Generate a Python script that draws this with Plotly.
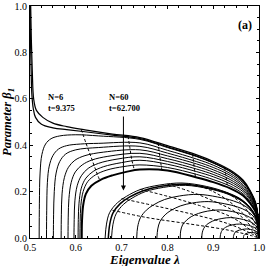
import plotly.graph_objects as go

# ---------------- data ----------------
# outer curves (reach the top of the frame)
outerA_x = [0.5015, 0.503, 0.505, 0.508, 0.514, 0.528, 0.55, 0.58, 0.62, 0.68, 0.74, 0.8, 0.864, 0.9, 0.937, 0.965, 0.98, 0.993, 0.999, 1.0]
outerA_y = [1.0, 0.85, 0.72, 0.6, 0.55, 0.52, 0.495, 0.48, 0.466, 0.448, 0.433, 0.398, 0.358, 0.33, 0.293, 0.25, 0.207, 0.15, 0.07, 0.0]
outerB_x = [0.5005, 0.501, 0.5025, 0.504, 0.507, 0.512, 0.525, 0.55, 0.58, 0.62, 0.68, 0.74, 0.8, 0.864, 0.9, 0.937, 0.965, 0.98, 0.993, 0.999, 1.0]
outerB_y = [1.0, 0.85, 0.72, 0.62, 0.56, 0.52, 0.49, 0.475, 0.467, 0.458, 0.443, 0.428, 0.393, 0.353, 0.325, 0.288, 0.245, 0.202, 0.145, 0.068, 0.0]

tail_x = [0.8, 0.864, 0.9, 0.937, 0.965, 0.98, 0.993, 0.999, 1.0]

upper_x = [
    [0.520, 0.5205, 0.522, 0.526, 0.534, 0.546, 0.565, 0.6, 0.65, 0.74] + tail_x,
    [0.536, 0.5365, 0.538, 0.542, 0.55, 0.562, 0.58, 0.61, 0.65, 0.74] + tail_x,
    [0.551, 0.5515, 0.553, 0.557, 0.565, 0.578, 0.6, 0.65, 0.74] + tail_x,
    [0.568, 0.5685, 0.570, 0.575, 0.584, 0.598, 0.62, 0.66, 0.74] + tail_x,
    [0.583, 0.5835, 0.585, 0.59, 0.599, 0.614, 0.635, 0.67, 0.74] + tail_x,
    [0.596, 0.5965, 0.598, 0.603, 0.612, 0.627, 0.65, 0.69, 0.74] + tail_x,
    [0.605, 0.6055, 0.607, 0.612, 0.622, 0.638, 0.66, 0.7, 0.74] + tail_x,
    [0.609, 0.6095, 0.611, 0.616, 0.626, 0.643, 0.668, 0.705, 0.74] + tail_x,
    [0.613, 0.6135, 0.616, 0.622, 0.634, 0.655, 0.68, 0.71, 0.74] + tail_x,
]
upper_y = [
    [0, 0.15, 0.28, 0.36, 0.405, 0.428, 0.44, 0.445, 0.44, 0.425, 0.390, 0.351, 0.323, 0.287, 0.245, 0.203, 0.147, 0.069, 0],
    [0, 0.12, 0.24, 0.31, 0.355, 0.383, 0.398, 0.405, 0.408, 0.41, 0.378, 0.340, 0.314, 0.278, 0.238, 0.197, 0.143, 0.067, 0],
    [0, 0.1, 0.2, 0.28, 0.33, 0.362, 0.38, 0.39, 0.395, 0.366, 0.329, 0.304, 0.270, 0.230, 0.190, 0.138, 0.064, 0],
    [0, 0.1, 0.19, 0.26, 0.305, 0.335, 0.355, 0.37, 0.38, 0.354, 0.319, 0.294, 0.261, 0.223, 0.184, 0.134, 0.062, 0],
    [0, 0.09, 0.17, 0.24, 0.285, 0.315, 0.336, 0.352, 0.365, 0.342, 0.308, 0.284, 0.252, 0.215, 0.178, 0.129, 0.060, 0],
    [0, 0.08, 0.16, 0.225, 0.268, 0.3, 0.322, 0.34, 0.35, 0.330, 0.297, 0.274, 0.243, 0.208, 0.172, 0.125, 0.058, 0],
    [0, 0.08, 0.15, 0.215, 0.258, 0.287, 0.307, 0.325, 0.335, 0.318, 0.286, 0.264, 0.234, 0.200, 0.166, 0.120, 0.056, 0],
    [0, 0.07, 0.14, 0.2, 0.243, 0.272, 0.293, 0.308, 0.315, 0.304, 0.274, 0.252, 0.224, 0.191, 0.158, 0.115, 0.054, 0],
    [0, 0.07, 0.14, 0.19, 0.225, 0.252, 0.27, 0.285, 0.295, 0.291, 0.261, 0.241, 0.214, 0.183, 0.151, 0.110, 0.051, 0],
]
upper_w = [1, 1, 1, 1, 1, 1, 1, 1, 2]

# lower family of domes ending at (1, 0)
lower_x = [
    [0.664, 0.667, 0.674, 0.691, 0.711, 0.741, 0.782, 0.832, 0.886, 0.929, 0.96, 0.98, 0.992, 0.998, 1.0],
    [0.671, 0.674, 0.681, 0.697, 0.717, 0.747, 0.786, 0.836, 0.888, 0.931, 0.961, 0.98, 0.992, 0.998, 1.0],
    [0.678, 0.681, 0.688, 0.704, 0.723, 0.752, 0.791, 0.839, 0.891, 0.932, 0.962, 0.981, 0.992, 0.998, 1.0],
    [0.733, 0.735, 0.741, 0.754, 0.77, 0.794, 0.826, 0.867, 0.909, 0.944, 0.968, 0.984, 0.993, 0.998, 1.0],
    [0.777, 0.779, 0.784, 0.795, 0.808, 0.828, 0.855, 0.889, 0.924, 0.953, 0.973, 0.987, 0.994, 0.998, 1.0],
    [0.828, 0.829, 0.833, 0.842, 0.852, 0.868, 0.888, 0.914, 0.942, 0.964, 0.979, 0.99, 0.996, 0.999, 1.0],
    [0.875, 0.876, 0.879, 0.885, 0.893, 0.904, 0.919, 0.938, 0.958, 0.974, 0.985, 0.992, 0.997, 0.999, 1.0],
    [0.915, 0.916, 0.918, 0.922, 0.927, 0.935, 0.945, 0.958, 0.971, 0.982, 0.99, 0.995, 0.998, 0.999, 1.0],
    [0.944, 0.9445, 0.946, 0.948, 0.952, 0.957, 0.964, 0.972, 0.981, 0.988, 0.993, 0.996, 0.998, 0.9995, 1.0],
    [0.966, 0.9663, 0.967, 0.969, 0.971, 0.974, 0.978, 0.983, 0.988, 0.993, 0.996, 0.998, 0.999, 0.9998, 1.0],
]
lower_y = [
    [0, 0.06, 0.11, 0.152, 0.18, 0.209, 0.228, 0.237, 0.222, 0.197, 0.168, 0.133, 0.097, 0.057, 0],
    [0, 0.058, 0.107, 0.148, 0.176, 0.204, 0.223, 0.232, 0.217, 0.193, 0.164, 0.13, 0.095, 0.056, 0],
    [0, 0.057, 0.104, 0.145, 0.172, 0.2, 0.218, 0.227, 0.212, 0.189, 0.16, 0.127, 0.093, 0.055, 0],
    [0, 0.047, 0.087, 0.12, 0.143, 0.166, 0.181, 0.188, 0.177, 0.16, 0.14, 0.113, 0.085, 0.05, 0],
    [0, 0.039, 0.072, 0.1, 0.119, 0.138, 0.151, 0.157, 0.148, 0.134, 0.117, 0.095, 0.072, 0.043, 0],
    [0, 0.03, 0.056, 0.077, 0.092, 0.106, 0.116, 0.121, 0.114, 0.103, 0.09, 0.073, 0.056, 0.033, 0],
    [0, 0.022, 0.04, 0.056, 0.067, 0.077, 0.084, 0.088, 0.083, 0.075, 0.066, 0.054, 0.041, 0.024, 0],
    [0, 0.015, 0.028, 0.038, 0.046, 0.053, 0.058, 0.06, 0.057, 0.052, 0.045, 0.037, 0.028, 0.017, 0],
    [0, 0.01, 0.018, 0.025, 0.03, 0.034, 0.037, 0.039, 0.037, 0.034, 0.03, 0.024, 0.018, 0.011, 0],
    [0, 0.006, 0.011, 0.015, 0.018, 0.021, 0.023, 0.024, 0.023, 0.021, 0.018, 0.015, 0.011, 0.007, 0],
]
lower_w = [1, 1.5, 1, 1, 1, 1, 1, 1, 1, 1]

# dashed lines of constant t
dash_x = [
    [0.612, 0.622, 0.635, 0.645, 0.652],
    [0.714, 0.718, 0.722, 0.728],
    [0.78, 0.782, 0.785, 0.788],
    [0.855, 0.857, 0.859, 0.861],
    [0.925, 0.927, 0.929, 0.931],
    [0.68, 0.75, 0.85, 0.93, 0.98, 1.0],
    [0.70, 0.77, 0.86, 0.935, 0.982, 1.0],
    [0.74, 0.8, 0.87, 0.94, 0.984, 1.0],
    [0.8, 0.85, 0.9, 0.95, 0.987, 1.0],
    [0.87, 0.9, 0.93, 0.96, 0.99, 1.0],
    [0.93, 0.945, 0.96, 0.975, 0.993, 1.0],
]
dash_y = [
    [0.468, 0.41, 0.34, 0.285, 0.25],
    [0.44, 0.39, 0.34, 0.292],
    [0.41, 0.37, 0.33, 0.292],
    [0.363, 0.33, 0.297, 0.265],
    [0.305, 0.278, 0.251, 0.224],
    [0.12, 0.09, 0.06, 0.035, 0.012, 0],
    [0.17, 0.14, 0.1, 0.06, 0.02, 0],
    [0.21, 0.18, 0.14, 0.09, 0.03, 0],
    [0.232, 0.2, 0.16, 0.11, 0.04, 0],
    [0.225, 0.2, 0.165, 0.115, 0.05, 0],
    [0.195, 0.175, 0.152, 0.115, 0.058, 0],
]

labels_text = ["N=6<br>t=9.375", "N=60<br>t=62.700"]
labels_x = [0.535, 0.668]
labels_y = [0.586, 0.586]
arrow_x = [0.704, 0.704]
arrow_y = [0.53, 0.205]

x_ticks = [0.5, 0.6, 0.7, 0.8, 0.9, 1.0]
y_ticks = [0.0, 0.2, 0.4, 0.6, 0.8, 1.0]

# ---------------- figure ----------------
fig = go.Figure()
for xs, ys in zip(dash_x, dash_y):
    fig.add_trace(go.Scatter(x=xs, y=ys, mode="lines", line=dict(color="black", width=1, dash="3px,2px", shape="spline"),
                             hoverinfo="skip", showlegend=False))
for xs, ys in [(outerA_x, outerA_y), (outerB_x, outerB_y)]:
    fig.add_trace(go.Scatter(x=xs, y=ys, mode="lines", line=dict(color="black", width=1.2, shape="spline"),
                             hoverinfo="skip", showlegend=False))
for xs, ys, w in zip(upper_x, upper_y, upper_w):
    fig.add_trace(go.Scatter(x=xs, y=ys, mode="lines", line=dict(color="black", width=w, shape="spline"),
                             hoverinfo="skip", showlegend=False))
for xs, ys, w in zip(lower_x, lower_y, lower_w):
    fig.add_trace(go.Scatter(x=xs, y=ys, mode="lines", line=dict(color="black", width=w, shape="spline"),
                             hoverinfo="skip", showlegend=False))

serif = "Liberation Serif"
for t, x, y in zip(labels_text, labels_x, labels_y):
    fig.add_annotation(x=x, y=y, text="<b>" + t + "</b>", showarrow=False, xanchor="left", yanchor="middle",
                       align="left", font=dict(family=serif, size=8.5, color="black"))
fig.add_annotation(x=arrow_x[1], y=arrow_y[1], ax=arrow_x[0], ay=arrow_y[0], xref="x", yref="y", axref="x", ayref="y",
                   text="", showarrow=True, arrowhead=2, arrowsize=1, arrowwidth=1, arrowcolor="black")
fig.add_annotation(x=0.969, y=0.918, text="<b>(a)</b>", showarrow=False, font=dict(family=serif, size=12, color="black"))
# axis titles
fig.add_annotation(xref="paper", yref="paper", x=0.5, y=0, yshift=-12, yanchor="top", showarrow=False,
                   text="<b><i>Eigenvalue λ</i></b>", font=dict(family=serif, size=13, color="black"))
fig.add_annotation(xref="paper", yref="paper", x=0, y=0.5, xshift=-22, xanchor="center", textangle=-90, showarrow=False,
                   text="<b><i>Parameter β<sub>1</sub></i></b>", font=dict(family=serif, size=12.5, color="black"))

axis_common = dict(showline=True, linecolor="black", linewidth=1.2, mirror="ticks", ticks="inside", ticklen=3,
                   tickcolor="black", showgrid=False, zeroline=False, automargin=False,
                   tickfont=dict(family=serif, size=10, color="black"))
fig.update_xaxes(range=[0.5, 1.0], tickvals=x_ticks, ticktext=["%.1f" % v for v in x_ticks],
                 minor=dict(dtick=0.025, ticks="inside", ticklen=2, tickcolor="black"), **axis_common)
fig.update_yaxes(range=[0, 1.0], tickvals=y_ticks, ticktext=["%.1f" % v for v in y_ticks],
                 minor=dict(dtick=0.05, ticks="inside", ticklen=2, tickcolor="black"), **axis_common)
fig.update_layout(width=267, height=266, margin=dict(l=30, r=8, t=6, b=28), plot_bgcolor="white", paper_bgcolor="white")
fig.write_html("out.html", config={"displayModeBar": False},
               post_script="document.body.style.margin='0';document.body.style.overflow='hidden';")
